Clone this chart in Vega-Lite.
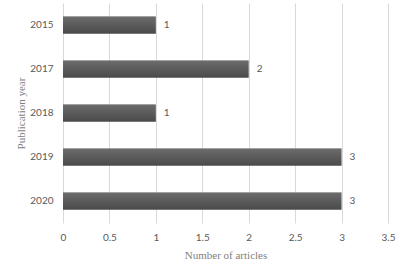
{
  "$schema": "https://vega.github.io/schema/vega-lite/v6.json",
  "autosize": "none",
  "padding": {"left": 63, "top": 3, "right": 29, "bottom": 42},
  "width": 325,
  "height": 220,
  "background": "white",
  "data": {"values": [
    {"year": "2015", "articles": 1},
    {"year": "2017", "articles": 2},
    {"year": "2018", "articles": 1},
    {"year": "2019", "articles": 3},
    {"year": "2020", "articles": 3}
  ]},
  "config": {
    "view": {"stroke": null},
    "axis": {"domain": false, "ticks": false, "labelColor": "#595959", "labelFont": "Lato", "labelFontSize": 10, "titleColor": "#7f7f7f", "titleFont": "Liberation Serif", "titleFontSize": 11, "titleFontWeight": "normal"}
  },
  "encoding": {
    "y": {"field": "year", "type": "nominal", "sort": null, "scale": {"paddingInner": 0.6, "paddingOuter": 0.3},
      "axis": {"title": "Publication year", "grid": false, "labelPadding": 10, "titlePadding": 3}},
    "x": {"field": "articles", "type": "quantitative", "scale": {"domain": [0, 3.5], "nice": false},
      "axis": {"title": "Number of articles", "values": [0, 0.5, 1, 1.5, 2, 2.5, 3, 3.5], "format": "~g", "gridColor": "#d9d9d9", "labelPadding": 9, "titlePadding": 7, "labelFlush": false}}
  },
  "layer": [
    {"mark": {"type": "bar", "color": {"gradient": "linear", "x1": 0, "y1": 0, "x2": 0, "y2": 1, "stops": [{"offset": 0, "color": "#8a8a8a"}, {"offset": 0.08, "color": "#6a6a6a"}, {"offset": 1, "color": "#4a4a4a"}]}}},
    {"mark": {"type": "text", "align": "left", "dx": 8, "font": "Lato", "fontSize": 10, "color": "#595959"},
      "encoding": {"text": {"field": "articles", "type": "quantitative"}}}
  ]
}
